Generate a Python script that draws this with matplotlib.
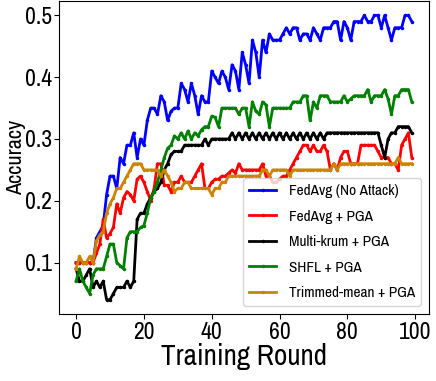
import matplotlib.pyplot as plt
import numpy as np
from matplotlib import font_manager

rounds = np.arange(100)

fedavg_clean = [0.10, 0.10, 0.10, 0.10, 0.10, 0.10, 0.14, 0.15, 0.16, 0.21,
                0.24, 0.24, 0.22, 0.27, 0.26, 0.29, 0.29, 0.31, 0.27, 0.30,
                0.29, 0.33, 0.35, 0.35, 0.34, 0.37, 0.36, 0.33, 0.345, 0.35,
                0.35, 0.39, 0.38, 0.36, 0.39, 0.37, 0.34, 0.37, 0.36, 0.36,
                0.41, 0.40, 0.39, 0.41, 0.40, 0.38, 0.42, 0.41, 0.38, 0.44,
                0.42, 0.39, 0.46, 0.44, 0.40, 0.46, 0.44, 0.47, 0.46, 0.46,
                0.46, 0.47, 0.48, 0.47, 0.48, 0.48, 0.46, 0.47, 0.47, 0.46,
                0.48, 0.47, 0.46, 0.48, 0.48, 0.48, 0.49, 0.49, 0.46, 0.49,
                0.48, 0.46, 0.49, 0.49, 0.49, 0.50, 0.49, 0.49, 0.50, 0.50,
                0.48, 0.50, 0.48, 0.46, 0.48, 0.48, 0.48, 0.50, 0.50, 0.49]

fedavg_pga = [0.10, 0.10, 0.10, 0.10, 0.10, 0.10, 0.115, 0.13, 0.17, 0.14,
              0.147, 0.157, 0.195, 0.18, 0.205, 0.215, 0.21, 0.20, 0.235, 0.24,
              0.23, 0.215, 0.20, 0.22, 0.26, 0.26, 0.225, 0.225, 0.215, 0.23,
              0.23, 0.24, 0.23, 0.23, 0.23, 0.24, 0.25, 0.26, 0.22, 0.22,
              0.23, 0.235, 0.235, 0.24, 0.24, 0.245, 0.25, 0.245, 0.26, 0.25,
              0.25, 0.25, 0.25, 0.25, 0.25, 0.26, 0.24, 0.24, 0.23, 0.23,
              0.235, 0.24, 0.24, 0.25, 0.26, 0.27, 0.28, 0.29, 0.29, 0.28,
              0.29, 0.28, 0.28, 0.29, 0.28, 0.25, 0.26, 0.25, 0.27, 0.28,
              0.28, 0.26, 0.26, 0.26, 0.29, 0.29, 0.29, 0.29, 0.29, 0.28,
              0.27, 0.27, 0.27, 0.26, 0.26, 0.25, 0.29, 0.30, 0.31, 0.27]

multikrum_pga = [0.09, 0.07, 0.07, 0.08, 0.09, 0.06, 0.07, 0.06, 0.07, 0.04,
                 0.04, 0.05, 0.06, 0.06, 0.06, 0.07, 0.06, 0.07, 0.17, 0.18,
                 0.18, 0.195, 0.205, 0.215, 0.22, 0.23, 0.25, 0.26, 0.275, 0.28,
                 0.28, 0.28, 0.29, 0.29, 0.29, 0.29, 0.29, 0.29, 0.30, 0.29,
                 0.30, 0.30, 0.30, 0.30, 0.30, 0.30, 0.31, 0.30, 0.31, 0.30,
                 0.31, 0.30, 0.31, 0.30, 0.31, 0.30, 0.31, 0.30, 0.31, 0.30,
                 0.31, 0.30, 0.31, 0.30, 0.31, 0.30, 0.31, 0.30, 0.31, 0.30,
                 0.31, 0.30, 0.31, 0.30, 0.31, 0.31, 0.31, 0.31, 0.31, 0.31,
                 0.31, 0.31, 0.31, 0.31, 0.31, 0.31, 0.31, 0.31, 0.31, 0.31,
                 0.29, 0.27, 0.30, 0.31, 0.31, 0.32, 0.32, 0.32, 0.32, 0.31]

shfl_pga = [0.07, 0.09, 0.07, 0.06, 0.05, 0.08, 0.09, 0.09, 0.09, 0.11,
            0.13, 0.13, 0.10, 0.095, 0.09, 0.14, 0.15, 0.15, 0.15, 0.157,
            0.16, 0.18, 0.205, 0.215, 0.23, 0.25, 0.27, 0.285, 0.29, 0.305,
            0.30, 0.31, 0.30, 0.313, 0.30, 0.31, 0.305, 0.315, 0.32, 0.32,
            0.337, 0.335, 0.32, 0.35, 0.35, 0.35, 0.35, 0.35, 0.34, 0.35,
            0.35, 0.32, 0.36, 0.345, 0.34, 0.36, 0.355, 0.32, 0.35, 0.35,
            0.35, 0.35, 0.35, 0.35, 0.36, 0.36, 0.36, 0.37, 0.37, 0.33,
            0.36, 0.35, 0.37, 0.37, 0.37, 0.36, 0.36, 0.36, 0.36, 0.37,
            0.36, 0.365, 0.37, 0.37, 0.37, 0.37, 0.38, 0.36, 0.37, 0.37,
            0.37, 0.38, 0.365, 0.34, 0.37, 0.37, 0.38, 0.38, 0.38, 0.36]

trimmed_pga = [0.09, 0.11, 0.10, 0.10, 0.11, 0.10, 0.135, 0.145, 0.15, 0.18,
               0.195, 0.205, 0.22, 0.22, 0.23, 0.24, 0.25, 0.26, 0.26, 0.26,
               0.25, 0.25, 0.25, 0.25, 0.25, 0.24, 0.25, 0.24, 0.23, 0.215,
               0.22, 0.22, 0.23, 0.23, 0.22, 0.22, 0.22, 0.22, 0.22, 0.22,
               0.21, 0.22, 0.22, 0.23, 0.23, 0.24, 0.24, 0.24, 0.24, 0.24,
               0.24, 0.24, 0.24, 0.24, 0.24, 0.25, 0.25, 0.24, 0.25, 0.25,
               0.25, 0.25, 0.25, 0.24, 0.25, 0.25, 0.25, 0.25, 0.25, 0.25,
               0.25, 0.25, 0.25, 0.25, 0.25, 0.25, 0.26, 0.25, 0.26, 0.26,
               0.26, 0.26, 0.26, 0.26, 0.26, 0.26, 0.26, 0.26, 0.26, 0.26,
               0.26, 0.26, 0.26, 0.26, 0.26, 0.27, 0.26, 0.26, 0.26, 0.26]

labels = ["FedAvg (No Attack)", "FedAvg + PGA", "Multi-krum + PGA",
          "SHFL + PGA", "Trimmed-mean + PGA"]
colors = ["blue", "red", "black", "green", "#cc8400"]

# reference text is narrow; prefer a condensed face if there is one
installed = sorted({f.name for f in font_manager.fontManager.ttflist})
narrow = [n for n in installed if "Condensed" in n or "Narrow" in n]
if narrow:
    plt.rcParams['font.family'] = narrow[0]
else:
    plt.rcParams['font.family'] = 'Roboto'

fig = plt.figure(figsize=(4.36, 3.81), dpi=100)
ax = fig.add_subplot(111)
fig.subplots_adjust(left=0.136, right=0.983, bottom=0.176, top=0.997)

series = [fedavg_clean, fedavg_pga, multikrum_pga, shfl_pga, trimmed_pga]
for vals, lab, col in zip(series, labels, colors):
    ax.plot(rounds, vals, color=col, marker=".", markersize=3, linewidth=2,
            label=lab)

ax.set_xticks([0, 20, 40, 60, 80, 100])
ax.set_yticks([0.1, 0.2, 0.3, 0.4, 0.5])
ax.tick_params(labelsize=17, pad=2)
ax.set_xlabel("Training Round", fontsize=21, labelpad=0)
ax.set_ylabel("Accuracy", fontsize=16)
ax.yaxis.set_label_coords(-0.09, 0.5)
ax.legend(loc="lower right", fontsize=11, handlelength=1.8,
          labelspacing=0.75)

plt.savefig("out.png", dpi=100)
